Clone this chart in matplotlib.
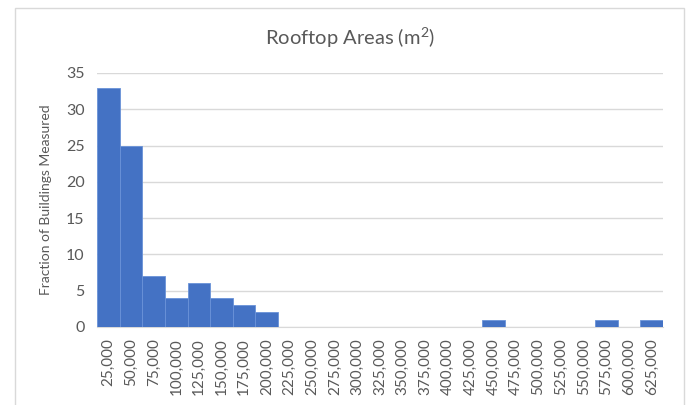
import matplotlib.pyplot as plt
from matplotlib.patches import Rectangle

# Data
bins = [25000 * i for i in range(1, 26)]
counts = [33, 25, 7, 4, 6, 4, 3, 2, 0, 0, 0, 0, 0, 0, 0, 0, 0, 1, 0, 0, 0, 0, 1, 0, 1]
tick_labels = ['{:,}'.format(b) for b in bins]

plt.rcParams['font.family'] = ['Lato', 'DejaVu Sans']
plt.rcParams['mathtext.fontset'] = 'custom'
plt.rcParams['mathtext.rm'] = 'Lato'
grey = '#595959'

fig = plt.figure(figsize=(6.86, 4.05), dpi=100)
fig.patch.set_facecolor('white')

# chart frame like Excel
fig.patches.append(Rectangle((15 / 686, -0.05), 669 / 686, 1.05 - 8 / 405,
                             transform=fig.transFigure, fill=False,
                             edgecolor='#d9d9d9', linewidth=1))

ax = fig.add_axes([97 / 686, 78 / 405, 566 / 686, 254 / 405])
x = list(range(len(bins)))
ax.bar(x, counts, width=1.0, color='#4472c4', edgecolor='#6a92d8', linewidth=0.6, zorder=3)

ax.set_xlim(-0.5, len(bins) - 0.5)
ax.set_ylim(0, 35)
ax.set_yticks(range(0, 36, 5))
ax.set_xticks(x)
ax.set_xticklabels(tick_labels, rotation=90, fontsize=11, color=grey)
ax.tick_params(axis='y', labelsize=11.5, colors=grey, length=0, pad=9)
ax.tick_params(axis='x', length=0, pad=8)

ax.grid(axis='y', color='#d9d9d9', linewidth=1, zorder=0)
for s in ['top', 'right', 'left']:
    ax.spines[s].set_visible(False)
ax.spines['bottom'].set_color('#d9d9d9')

ax.set_ylabel('Fraction of Buildings Measured', fontsize=10, color=grey, labelpad=10)
fig.text(350 / 686, 1 - 38 / 405, r'Rooftop Areas (m$\mathrm{^2}$)', ha='center', va='center',
         fontsize=14.5, color=grey)

fig.savefig('out.png', dpi=100)
